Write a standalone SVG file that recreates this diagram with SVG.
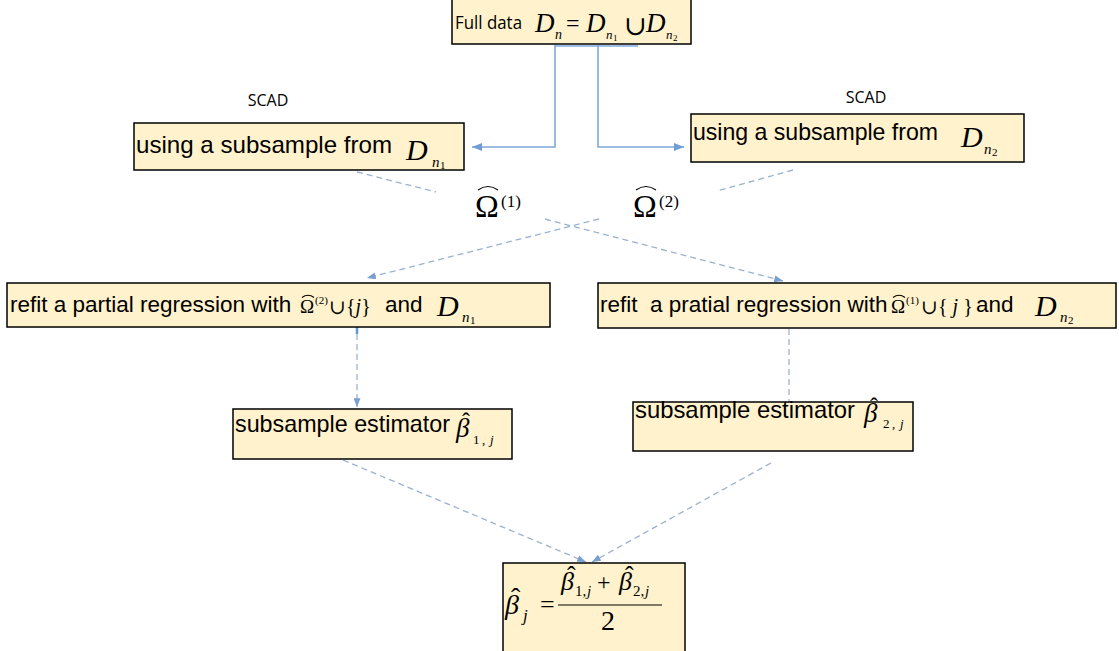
<svg xmlns="http://www.w3.org/2000/svg" width="1119" height="651" viewBox="0 0 1119 651">
  <defs>
    <style>
      .box{fill:#FFF2CC;stroke:#000;stroke-width:1.5}
      .t{font-family:"Liberation Sans",Arial,sans-serif;fill:#000}
      .c{font-family:"Open Sans","Liberation Sans",sans-serif;fill:#000}
      .m{font-family:"Liberation Serif","Times New Roman",serif;font-style:italic;fill:#000}
      .r{font-family:"Liberation Serif","Times New Roman",serif;font-style:normal;fill:#000}
      .sym{font-family:"DejaVu Serif","Liberation Serif",serif;font-style:normal;fill:#000}
      .hat{fill:none;stroke:#000;stroke-width:1.1}
      .solid{fill:none;stroke:#7FA8DA;stroke-width:1.6}
      .dash{fill:none;stroke:#9BB2CF;stroke-width:1.3;stroke-dasharray:6 4}
    </style>
    <marker id="arrS" viewBox="0 0 10 8" refX="10" refY="4" markerWidth="10" markerHeight="8" markerUnits="userSpaceOnUse" orient="auto">
      <path d="M0,0 L10,4 L0,8 z" fill="#6F9DD6"/>
    </marker>
    <marker id="arrD" viewBox="0 0 10 8" refX="10" refY="4" markerWidth="9" markerHeight="7" markerUnits="userSpaceOnUse" orient="auto">
      <path d="M0,0 L10,4 L0,8 z" fill="#7A9ECF"/>
    </marker>
  </defs>
  <rect width="1119" height="651" fill="#fff"/>

  <!-- connectors -->
  <g id="connectors">
    <line class="solid" x1="555" y1="46" x2="638" y2="46" stroke-width="1"/>
    <polyline class="solid" points="555,45 555,147 472,147" marker-end="url(#arrS)"/>
    <polyline class="solid" points="598,45 598,147 684,147" marker-end="url(#arrS)"/>
    <line class="dash" x1="357" y1="172" x2="436" y2="192"/>
    <line class="dash" x1="793" y1="170" x2="717" y2="191"/>
    <line class="dash" x1="545" y1="219" x2="783" y2="281" marker-end="url(#arrD)"/>
    <line class="dash" x1="599" y1="219" x2="367" y2="278" marker-end="url(#arrD)"/>
    <line x1="357" y1="327" x2="357" y2="334" stroke="#5B9BD5" stroke-width="2.5"/>
    <line class="dash" x1="357" y1="334" x2="357" y2="407" marker-end="url(#arrD)"/>
    <line class="dash" x1="789" y1="329" x2="789" y2="402"/>
    <line class="dash" x1="343" y1="460" x2="586" y2="562" marker-end="url(#arrD)"/>
    <line class="dash" x1="771" y1="463" x2="592" y2="562" marker-end="url(#arrD)"/>
  </g>

  <!-- full data -->
  <g id="full-data">
    <rect class="box" x="452" y="-2" width="239" height="46"/>
    <text class="c" x="455" y="29" font-size="18" textLength="67" lengthAdjust="spacingAndGlyphs">Full data</text>
    <text class="m" x="535" y="32" font-size="27">D</text>
    <text class="m" x="555" y="39" font-size="14">n</text>
    <text class="r" x="566" y="31" font-size="24">=</text>
    <text class="m" x="586" y="32" font-size="27">D</text>
    <text class="m" x="606" y="39" font-size="13">n</text>
    <text class="r" x="613" y="41" font-size="9">1</text>
    <text class="sym" x="624" y="35" font-size="27">∪</text>
    <text class="m" x="646" y="32" font-size="27">D</text>
    <text class="m" x="666" y="39" font-size="13">n</text>
    <text class="r" x="673" y="41" font-size="9">2</text>
  </g>

  <!-- SCAD labels -->
  <g id="scad-left">
    <text class="c" x="268" y="106" font-size="16" text-anchor="middle">SCAD</text>
  </g>
  <g id="scad-right">
    <text class="c" x="866" y="103" font-size="16" text-anchor="middle">SCAD</text>
  </g>

  <!-- subsample from D_n1 -->
  <g id="subsample-1">
    <rect class="box" x="134" y="123" width="330" height="47"/>
    <text class="t" x="136" y="153" font-size="24" textLength="256" lengthAdjust="spacingAndGlyphs">using a subsample from</text>
    <text class="m" x="406" y="160" font-size="30">D</text>
    <text class="m" x="432" y="167" font-size="15">n</text>
    <text class="r" x="440" y="169" font-size="11">1</text>
  </g>

  <!-- subsample from D_n2 -->
  <g id="subsample-2">
    <rect class="box" x="691" y="114" width="333" height="48"/>
    <text class="t" x="693" y="140" font-size="24" textLength="245" lengthAdjust="spacingAndGlyphs">using a subsample from</text>
    <text class="m" x="961" y="147" font-size="30">D</text>
    <text class="m" x="984" y="154" font-size="15">n</text>
    <text class="r" x="992" y="156" font-size="11">2</text>
  </g>

  <!-- selected sets -->
  <g id="omega-1">
    <path class="hat" d="M478,190 Q488,183 498,190"/>
    <text class="r" x="475" y="217" font-size="32">Ω</text>
    <text class="r" x="501" y="207" font-size="17">(1)</text>
  </g>
  <g id="omega-2">
    <path class="hat" d="M636,190 Q646,183 656,190"/>
    <text class="r" x="633" y="217" font-size="32">Ω</text>
    <text class="r" x="659" y="207" font-size="17">(2)</text>
  </g>

  <!-- refit on D_n1 -->
  <g id="refit-1">
    <rect class="box" x="7" y="283" width="543" height="44"/>
    <text class="t" x="10" y="312" font-size="22.5">refit a partial regression with</text>
    <path class="hat" d="M302,297.5 Q308,293 314,297.5"/>
    <text class="r" x="300" y="313" font-size="19">Ω</text>
    <text class="r" x="315" y="304" font-size="11">(2)</text>
    <text class="sym" x="329" y="314" font-size="20">∪</text>
    <text class="r" x="346" y="313" font-size="20">{<tspan class="m">j</tspan>}</text>
    <text class="t" x="385" y="312" font-size="22.5">and</text>
    <text class="m" x="437" y="316" font-size="30">D</text>
    <text class="m" x="462" y="322" font-size="15">n</text>
    <text class="r" x="470" y="324" font-size="11">1</text>
  </g>

  <!-- refit on D_n2 -->
  <g id="refit-2">
    <rect class="box" x="598" y="283" width="518" height="45"/>
    <text class="t" x="600" y="312" font-size="22.5" xml:space="preserve">refit  a pratial regression with</text>
    <path class="hat" d="M893,297.5 Q899,293 905,297.5"/>
    <text class="r" x="891" y="313" font-size="19">Ω</text>
    <text class="r" x="906" y="304" font-size="11">(1)</text>
    <text class="sym" x="921" y="314" font-size="20">∪</text>
    <text class="r" x="938" y="313" font-size="20" xml:space="preserve">{ <tspan class="m">j</tspan> }</text>
    <text class="t" x="976" y="312" font-size="22.5">and</text>
    <text class="m" x="1035" y="316" font-size="30">D</text>
    <text class="m" x="1060" y="322" font-size="15">n</text>
    <text class="r" x="1068" y="324" font-size="11">2</text>
  </g>

  <!-- estimator from D_n1 -->
  <g id="estimator-1">
    <rect class="box" x="233" y="409" width="279" height="50"/>
    <text class="t" x="235" y="432" font-size="24" textLength="215" lengthAdjust="spacingAndGlyphs">subsample estimator</text>
    <text class="r" x="462" y="429" font-size="24">ˆ</text>
    <text class="m" x="456" y="437" font-size="27">β</text>
    <text class="r" x="473" y="444" font-size="13">1</text>
    <text class="r" x="482" y="444" font-size="13">,</text>
    <text class="m" x="490" y="444" font-size="13">j</text>
  </g>

  <!-- estimator from D_n2 -->
  <g id="estimator-2">
    <rect class="box" x="633" y="402" width="280" height="49"/>
    <text class="t" x="635" y="418" font-size="24" textLength="220" lengthAdjust="spacingAndGlyphs">subsample estimator</text>
    <text class="r" x="870" y="414" font-size="24">ˆ</text>
    <text class="m" x="864" y="422" font-size="27">β</text>
    <text class="r" x="883" y="428" font-size="13">2</text>
    <text class="r" x="892" y="428" font-size="13">,</text>
    <text class="m" x="900" y="428" font-size="13">j</text>
  </g>

  <!-- averaged estimator -->
  <g id="average">
    <rect class="box" x="503" y="563" width="182" height="95"/>
    <text class="r" x="511" y="607" font-size="28">ˆ</text>
    <text class="m" x="505" y="614" font-size="28">β</text>
    <text class="m" x="523" y="621" font-size="17">j</text>
    <text class="r" x="540" y="613" font-size="26">=</text>
    <line x1="558" y1="605" x2="662" y2="605" stroke="#000" stroke-width="1.2"/>
    <text class="r" x="567" y="584" font-size="26">ˆ</text>
    <text class="m" x="561" y="590" font-size="26">β</text>
    <text class="r" x="575" y="596" font-size="15">1,</text>
    <text class="m" x="587" y="596" font-size="15">j</text>
    <text class="r" x="597" y="590" font-size="24">+</text>
    <text class="r" x="625" y="584" font-size="26">ˆ</text>
    <text class="m" x="619" y="590" font-size="26">β</text>
    <text class="r" x="633" y="596" font-size="15">2,</text>
    <text class="m" x="645" y="596" font-size="15">j</text>
    <text class="r" x="601" y="630" font-size="28">2</text>
  </g>
</svg>
